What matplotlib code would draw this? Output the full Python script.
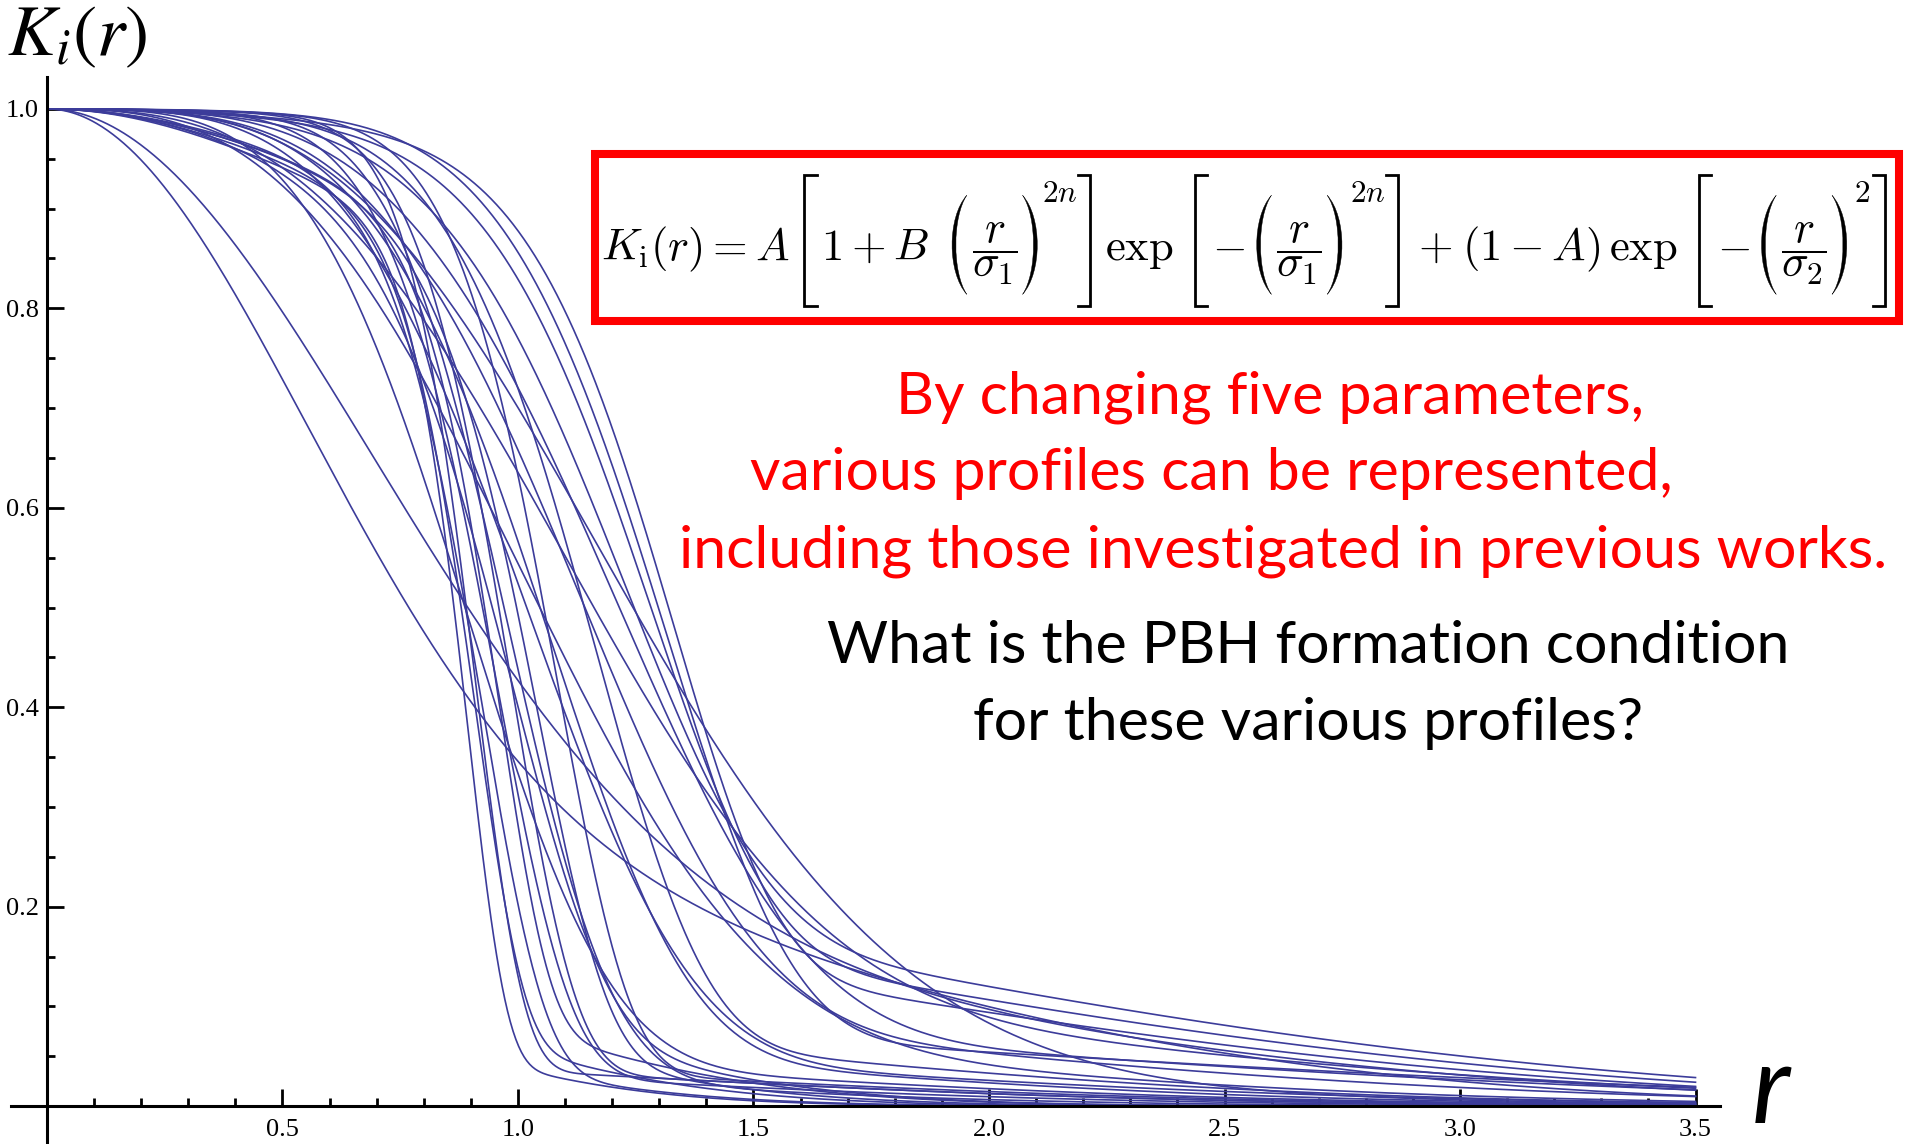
import numpy as np
import matplotlib.pyplot as plt
from matplotlib.lines import Line2D
from matplotlib.patches import Rectangle, PathPatch
from matplotlib.path import Path
from matplotlib.ticker import MultipleLocator

# parameters of each initial curvature profile K_i(r)
A = [0.70, 0.80,
     0.80, 0.85, 0.78, 0.82, 0.75, 0.80,
     0.95, 0.955, 0.95, 0.95,
     0.90, 0.92, 0.88, 0.90, 0.93, 0.94, 0.93, 0.95,
     0.76, 0.78, 0.80, 0.85,
     0.90, 0.91]
B = [0.0, 0.0,
     0.0, 0.0, 0.0, 0.0, 0.0, 0.0,
     0.0, 0.5, 0.0, 0.0,
     0.0, 0.5, 0.0, 0.0, 0.0, 0.0, 1.0, 1.0,
     0.0, 0.0, 0.0, 0.0,
     0.0, 0.0]
sigma1 = [0.75, 0.95,
          0.92, 0.94, 0.97, 0.90, 1.02, 1.06,
          0.92, 0.90, 1.00, 1.10,
          1.15, 1.00, 1.22, 1.20, 1.10, 0.96, 0.95, 0.85,
          1.28, 1.32, 1.36, 1.25,
          1.30, 1.36]
sigma2 = [1.9, 2.2,
          0.90, 0.85, 1.00, 0.80, 1.00, 0.95,
          1.7, 1.6, 1.7, 1.8,
          2.0, 1.8, 2.2, 1.9, 2.0, 1.8, 1.9, 1.4,
          2.4, 2.35, 2.3, 2.4,
          2.6, 2.8]
n = [1, 1,
     5, 4, 5, 6, 3, 4,
     5, 3, 4, 4,
     1.5, 2, 2, 3, 2, 2, 1, 2,
     2.5, 3, 3.5, 1.5,
     2, 3]

xticks = [0.5, 1.0, 1.5, 2.0, 2.5, 3.0, 3.5]
yticks = [0.2, 0.4, 0.6, 0.8, 1.0]

red_lines = ["By changing five parameters,",
             "various profiles can be represented,",
             "including those investigated in previous works."]
black_lines = ["What is the PBH formation condition",
               "for these various profiles?"]

W, H = 1905, 1144
fig = plt.figure(figsize=(W / 100, H / 100), dpi=100)


def fx(x):
    return x / W


def fy(y):
    return 1 - y / H


ax = fig.add_axes([fx(11), fy(1142), (1720 - 11) / W, (1142 - 77) / H])

r = np.linspace(0, 3.5, 1200)
for a, b, s1, s2, m in zip(A, B, sigma1, sigma2, n):
    x1 = (r / s1) ** (2 * m)
    k = a * (1 + b * x1) * np.exp(-x1) + (1 - a) * np.exp(-(r / s2) ** 2)
    ax.plot(r, k, color='#3c3c9a', lw=1.2)

ax.set_xlim(-0.0764, 3.552)
ax.set_ylim(-0.036, 1.032)
for side in ['top', 'right']:
    ax.spines[side].set_visible(False)
for side in ['left', 'bottom']:
    ax.spines[side].set_position(('data', 0))
    ax.spines[side].set_linewidth(2.2)

ax.set_xticks(xticks)
ax.set_yticks(yticks)
ax.set_xticklabels([f'{v:.1f}' for v in xticks])
ax.set_yticklabels([f'{v:.1f}' for v in yticks])
ax.xaxis.set_minor_locator(MultipleLocator(0.1))
ax.yaxis.set_minor_locator(MultipleLocator(0.05))
ax.tick_params(which='both', direction='in', width=2, color='black')
ax.tick_params(which='major', length=12)
ax.tick_params(which='minor', length=6)
ax.tick_params(axis='x', which='major', pad=9)
ax.tick_params(axis='y', which='major', pad=6)
for lab in ax.get_xticklabels() + ax.get_yticklabels():
    lab.set_fontfamily('Liberation Serif')
    lab.set_fontsize(19)
ax.patch.set_visible(False)

# axis names
fig.text(fx(7), fy(55), r'$K_i(r)$', fontsize=52, math_fontfamily='stix',
         ha='left', va='baseline')
fig.text(fx(1752), fy(1123), 'r', fontsize=80, fontfamily='Lato', style='italic',
         ha='left', va='baseline')

# formula box
box = Rectangle((fx(594.5), fy(321)), (1899 - 594.5) / W, (321 - 154) / H,
                transform=fig.transFigure, facecolor='white', edgecolor='#ff0000',
                lw=5.8, zorder=3)
fig.add_artist(box)

# formula, laid out piece by piece so the delimiters can be tall
frac1 = r'$\dfrac{r}{\sigma_1}$'
frac2 = r'$\dfrac{r}{\sigma_2}$'
# (kind, text, gap before in em)
tokens = [('t', r'$K_{\mathrm{i}}(r) = A$', 0.0),
          ('[', None, 0.30), ('t', r'$1+B$', 0.10), ('(', None, 0.40),
          ('t', frac1, 0.0), (')', None, 0.0), ('s', r'$2n$', 0.0), (']', None, 0.0),
          ('t', r'$\exp$', 0.30), ('[', None, 0.45), ('t', r'$-$', 0.12),
          ('(', None, 0.15), ('t', frac1, 0.0), (')', None, 0.0), ('s', r'$2n$', 0.08),
          (']', None, 0.0),
          ('t', r'$+$', 0.42), ('t', r'$(1-A)\,\exp$', 0.22), ('[', None, 0.45),
          ('t', r'$-$', 0.12),
          ('(', None, 0.15), ('t', frac2, 0.0), (')', None, 0.0), ('s', r'$2$', 0.06),
          (']', None, 0.05)]
delim_w = {'[': 0.30, ']': 0.30, '(': 0.55, ')': 0.55}

rend = fig.canvas.get_renderer()
F0 = 31.0
E0 = F0 * 100 / 72
widths = []
for kind, s, gap in tokens:
    if kind in delim_w:
        widths.append(delim_w[kind])
    else:
        size = F0 * (0.7 if kind == 's' else 1.0)
        tmp = fig.text(0, 0, s, fontsize=size, math_fontfamily='cm')
        widths.append(tmp.get_window_extent(rend).width / E0)
        tmp.remove()
total_em = sum(widths) + sum(g for _, _, g in tokens)
x_left, x_right, yb = 601, 1886, 260
E = (x_right - x_left) / total_em
F = E * 72 / 100


def paren(x0, w, top, bot, flip):
    h = bot - top
    t = 0.085 * E
    pts = [(x0 + 0.8 * w, top), (x0, top + 0.22 * h), (x0, bot - 0.22 * h),
           (x0 + 0.8 * w, bot),
           (x0 + t / 0.75, bot - 0.22 * h), (x0 + t / 0.75, top + 0.22 * h),
           (x0 + 0.8 * w, top)]
    if flip:
        pts = [(2 * x0 + w - px, py) for px, py in pts]
    codes = [Path.MOVETO, Path.CURVE4, Path.CURVE4, Path.CURVE4,
             Path.CURVE4, Path.CURVE4, Path.CURVE4]
    verts = [(fx(px), fy(py)) for px, py in pts]
    fig.add_artist(PathPatch(Path(verts, codes), transform=fig.transFigure,
                             facecolor='black', edgecolor='black', lw=0.3, zorder=4))


def bracket(x0, w, top, bot, flip):
    xs = [x0 + w, x0 + 0.1 * w, x0 + 0.1 * w, x0 + w]
    if flip:
        xs = [2 * x0 + w - v for v in xs]
    ys = [top, top, bot, bot]
    fig.add_artist(Line2D([fx(v) for v in xs], [fy(v) for v in ys],
                          transform=fig.transFigure, color='black', lw=2.0,
                          solid_joinstyle='miter', zorder=4))


x = x_left
for (kind, s, gap), w in zip(tokens, widths):
    x += gap * E
    if kind in '[]':
        bracket(x, w * E, yb - 1.90 * E, yb + 1.03 * E, kind == ']')
    elif kind in '()':
        paren(x, w * E, yb - 1.45 * E, yb + 0.77 * E, kind == ')')
    elif kind == 's':
        fig.text(fx(x), fy(yb - 1.31 * E), s, fontsize=0.7 * F, math_fontfamily='cm',
                 ha='left', va='baseline', zorder=4)
    else:
        fig.text(fx(x), fy(yb), s, fontsize=F, math_fontfamily='cm',
                 ha='left', va='baseline', zorder=4)
    x += w * E

# slide text, sized to fit the line widths
red_centers = [(1270, 413), (1211, 490), (1283, 567)]
black_centers = [(1308, 663), (1308, 740)]
targets = [746, 931, 1206, 951, 672]
texts = []
for s, (cx, by) in zip(red_lines, red_centers):
    texts.append(fig.text(fx(cx), fy(by), s, color='#ff0000', fontfamily='Lato',
                          fontsize=40, ha='center', va='baseline'))
for s, (cx, by) in zip(black_lines, black_centers):
    texts.append(fig.text(fx(cx), fy(by), s, color='black', fontfamily='Lato',
                          fontsize=40, ha='center', va='baseline'))
ratio = np.mean([t_w / t.get_window_extent(rend).width for t, t_w in zip(texts, targets)])
for t in texts:
    t.set_fontsize(40 * ratio)

fig.savefig('out.png', dpi=100)
